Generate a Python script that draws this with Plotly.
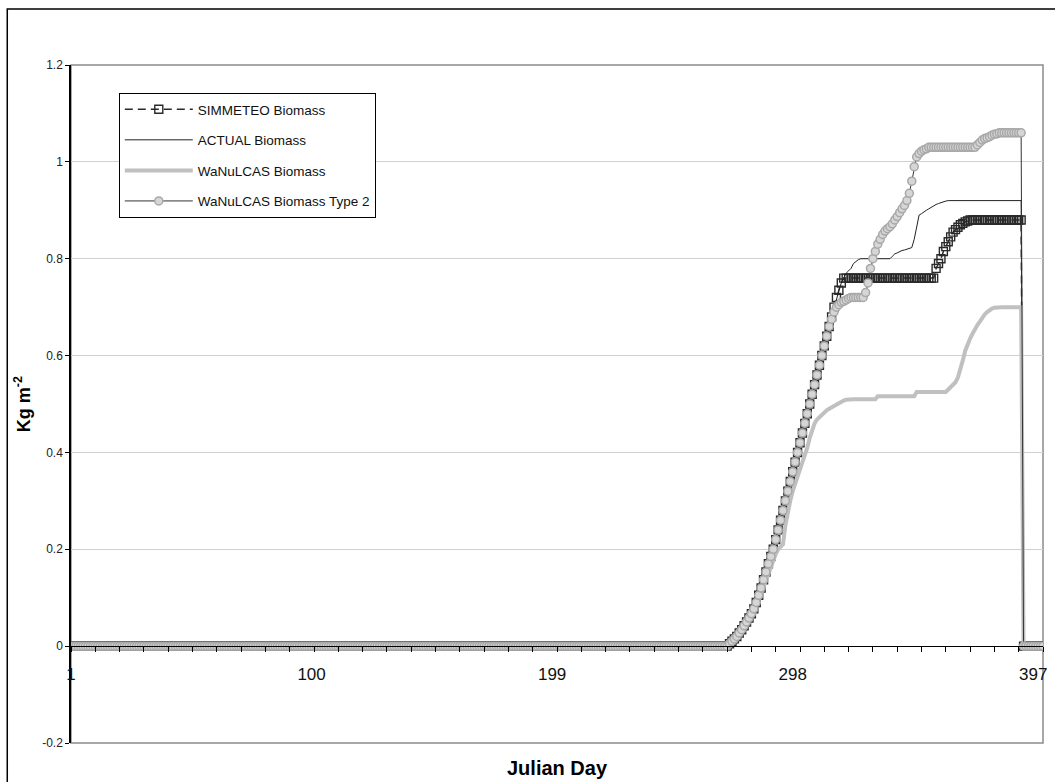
import plotly.graph_objects as go

# ---------------- data ----------------
day_tick_values = [1, 100, 199, 298, 397]
day_tick_labels = ["1", "100", "199", "298", "397"]
y_tick_values = [-0.2, 0, 0.2, 0.4, 0.6, 0.8, 1.0, 1.2]
y_tick_labels = ["-0.2", "0", "0.2", "0.4", "0.6", "0.8", "1", "1.2"]

# common early rise (days 271-318), shared by the overlapping series
rise_271_318 = [0.0, 0.005, 0.01, 0.015, 0.02, 0.027, 0.034, 0.042, 0.05, 0.058,
                0.067, 0.077, 0.09, 0.105, 0.12, 0.137, 0.153, 0.17, 0.185, 0.2,
                0.22, 0.24, 0.26, 0.28, 0.3, 0.32, 0.34, 0.36, 0.38, 0.4,
                0.42, 0.44, 0.46, 0.48, 0.5, 0.52, 0.54, 0.56, 0.58, 0.6,
                0.62, 0.64, 0.66, 0.68, 0.7, 0.72, 0.735, 0.75]

simmeteo = ([0.0] * 270 + rise_271_318 + [0.76] * 38 +
            [0.78, 0.79, 0.8, 0.815, 0.825, 0.835, 0.845, 0.855, 0.86, 0.865,
             0.87, 0.873, 0.876, 0.878] +
            [0.88] * 22 + [0.0] * 9)

actual = ([0.0] * 270 + rise_271_318 +
          [0.76, 0.77, 0.775, 0.78, 0.79, 0.795, 0.798] + [0.8] * 13 +
          [0.805, 0.81, 0.812, 0.815, 0.817, 0.818, 0.82, 0.822, 0.823, 0.84,
           0.865, 0.89, 0.893, 0.897, 0.9, 0.903, 0.906, 0.91, 0.912, 0.914,
           0.916, 0.918, 0.919] +
          [0.92] * 31 + [0.0] * 9)

wanulcas = ([0.0] * 270 +
            [0.0, 0.003, 0.007, 0.012, 0.017, 0.023, 0.03, 0.037, 0.045, 0.053,
             0.062, 0.072, 0.083, 0.095, 0.108, 0.122, 0.137, 0.152, 0.167, 0.18,
             0.19, 0.2, 0.205, 0.21, 0.25, 0.28, 0.3, 0.32, 0.335, 0.345,
             0.36, 0.38, 0.395, 0.41, 0.43, 0.445, 0.46, 0.468, 0.473, 0.478,
             0.482, 0.487, 0.49, 0.493, 0.497, 0.5, 0.502, 0.505, 0.507, 0.509] +
            [0.51] * 12 + [0.516] * 16 + [0.525] * 13 +
            [0.53, 0.535, 0.54, 0.545, 0.555, 0.57, 0.59, 0.61, 0.625, 0.635,
             0.645, 0.655, 0.663, 0.67, 0.678, 0.685, 0.69, 0.694, 0.697, 0.699] +
            [0.7] * 11 + [0.0] * 9)

wanulcas_t2 = ([0.0] * 270 + rise_271_318[:43] +
               [0.675, 0.69, 0.7, 0.705, 0.71, 0.712, 0.715, 0.718, 0.72] + [0.72] * 5 +
               [0.73, 0.75, 0.78, 0.8, 0.815, 0.83, 0.84, 0.85, 0.857, 0.862,
                0.866, 0.872, 0.88, 0.887, 0.895, 0.903, 0.91, 0.92, 0.935, 0.96,
                0.99, 1.01, 1.017, 1.022, 1.025, 1.027, 1.03] +
               [1.03] * 19 +
               [1.035, 1.04, 1.045, 1.048, 1.05, 1.052, 1.055, 1.057, 1.058] +
               [1.06] * 10 + [0.0] * 9)

series_names = ["SIMMETEO Biomass", "ACTUAL Biomass", "WaNuLCAS Biomass",
                "WaNuLCAS Biomass Type 2"]


def days_for(vals):
    return list(range(1, len(vals) + 1))


# ---------------- figure ----------------
FONT = "Liberation Sans, Arial, sans-serif"
fig = go.Figure()

fig.add_trace(go.Scatter(
    x=days_for(simmeteo), y=simmeteo, name=series_names[0], legendgroup="g1",
    mode="lines+markers",
    line=dict(color="#2A2A2A", width=1.5, dash="8px,5px"),
    marker=dict(symbol="square-open", size=8, color="#2A2A2A",
                line=dict(color="#2A2A2A", width=1.4)),
))
fig.add_trace(go.Scatter(
    x=days_for(actual), y=actual, name=series_names[1], legendgroup="g2",
    mode="lines", line=dict(color="#222222", width=1),
))
fig.add_trace(go.Scatter(
    x=days_for(wanulcas), y=wanulcas, name=series_names[2], legendgroup="g3",
    mode="lines", line=dict(color="#C0C0C0", width=4),
))
fig.add_trace(go.Scatter(
    x=days_for(wanulcas_t2), y=wanulcas_t2, name=series_names[3], legendgroup="g4",
    mode="lines+markers", line=dict(color="#333333", width=1),
    marker=dict(symbol="circle", size=8, color="#D6D6D6",
                line=dict(color="#A8A8A8", width=1.5)),
))

L, R, T, B = 71, 8, 65, 39
W, H = 1055, 782
pw, ph = W - L - R, H - T - B


def px_x(px):
    return (px - L) / pw


def px_y(py):
    return (H - B - py) / ph


fig.update_layout(
    width=W, height=H,
    margin=dict(l=L, r=R, t=T, b=B, pad=0),
    paper_bgcolor="white", plot_bgcolor="white",
    font=dict(family=FONT, color="#222222"),
    showlegend=True,
    legend=dict(
        x=px_x(119), y=px_y(93), xanchor="left", yanchor="top",
        bgcolor="white", bordercolor="#000000", borderwidth=1,
        font=dict(family=FONT, size=13.5, color="#111111"),
        traceorder="grouped", tracegroupgap=10, itemwidth=68,
    ),
    xaxis=dict(
        range=[1, 401], anchor="free", position=0.2 / 1.4,
        showgrid=False, zeroline=False,
        showline=True, linecolor="#000000", linewidth=1,
        tickmode="array", tickvals=day_tick_values, ticktext=day_tick_labels,
        ticks="outside", ticklen=12, tickcolor="rgba(0,0,0,0)",
        tickfont=dict(family=FONT, size=17, color="#111111"),
        minor=dict(tick0=1, dtick=10, ticks="outside", ticklen=5,
                   tickcolor="#000000", tickwidth=1, showgrid=False),
    ),
    yaxis=dict(
        range=[-0.2, 1.2], domain=[0, 1],
        tickmode="array", tickvals=y_tick_values, ticktext=y_tick_labels,
        showgrid=True, gridcolor="#D0D0D0", gridwidth=1, zeroline=False,
        showline=True, linecolor="#000000", linewidth=1.5,
        ticks="outside", ticklen=4, tickcolor="#000000",
        tickfont=dict(family=FONT, size=12, color="#222222"),
    ),
    shapes=[
        dict(type="rect", xref="paper", yref="paper", x0=0, x1=1, y0=0, y1=1,
             line=dict(color="#8C8C8C", width=1.5), layer="below"),
        dict(type="rect", xref="paper", yref="paper",
             x0=px_x(7), x1=px_x(1070), y0=px_y(800), y1=px_y(9),
             line=dict(color="#000000", width=1.5), layer="above"),
    ],
    annotations=[
        dict(text="<b>Julian Day</b>", xref="paper", yref="paper",
             x=0.5, y=px_y(768), xanchor="center", yanchor="middle",
             showarrow=False, font=dict(family=FONT, size=20, color="#000000")),
        dict(text="<b>Kg m<sup>-2</sup></b>", xref="paper", yref="paper",
             x=px_x(22), y=0.5, xanchor="center", yanchor="middle",
             textangle=-90, showarrow=False,
             font=dict(family=FONT, size=18, color="#000000")),
    ],
)

fig.write_html("out.html")
